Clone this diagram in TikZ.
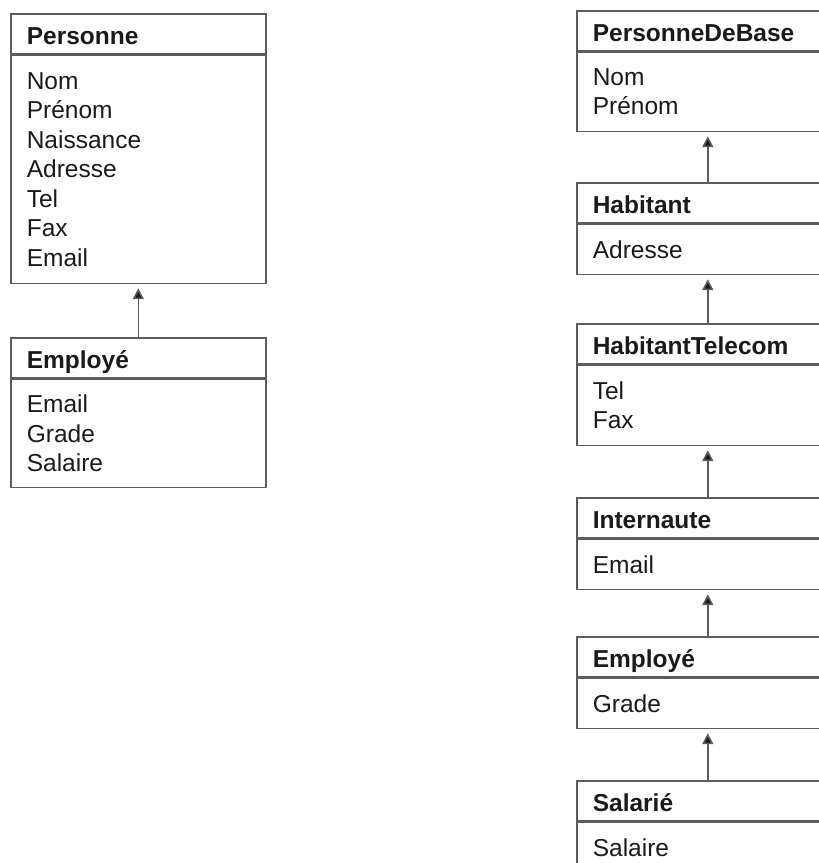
\documentclass[tikz,border=0pt]{standalone}
\usepackage{fontspec}
\setmainfont{Liberation Sans}
\usetikzlibrary{arrows.meta,positioning}
\definecolor{edge}{HTML}{5C5C5C}
\definecolor{ink}{HTML}{1A1A1A}

\begin{document}
\begin{tikzpicture}[
    x=1pt,y=-1pt,
    cls/.style={rectangle,draw=edge,line width=1.6pt,inner xsep=16pt,inner ysep=0pt,align=left,text=ink,font=\fontsize{24.5}{29.5}\selectfont},
    lcls/.style={cls,text width=223pt},
    rcls/.style={cls,text width=230pt},
    ttl/.style={minimum height=40pt,text height=22pt,text depth=0pt,font=\fontsize{24.5}{29.5}\selectfont\bfseries,anchor=north west},
    arr/.style={-{Triangle[length=11pt,width=11pt,fill=ink]},draw=edge,line width=1.6pt,shorten >=4pt}
]
\useasboundingbox (0,0) rectangle (819,863);
\clip (0,0) rectangle (819,863);

% flat class
\node[lcls,ttl] (pers) at (10,13) {Personne};
\node[lcls,minimum height=228pt,below=0pt of pers] (persA) {Nom\\Prénom\\Naissance\\Adresse\\Tel\\Fax\\Email};
\node[lcls,ttl] (emp) at (10,337) {Employé};
\node[lcls,minimum height=108pt,below=0pt of emp] (empA) {Email\\Grade\\Salaire};
\draw[arr] (emp.north) -- (persA.south);

% chain of classes
\node[rcls,ttl] (pdb) at (576,10) {PersonneDeBase};
\node[rcls,minimum height=79pt,below=0pt of pdb] (pdbA) {Nom\\Prénom};
\node[rcls,ttl] (hab) at (576,182) {Habitant};
\node[rcls,minimum height=50pt,below=0pt of hab] (habA) {Adresse};
\node[rcls,ttl] (habT) at (576,323) {HabitantTelecom};
\node[rcls,minimum height=80pt,below=0pt of habT] (habTA) {Tel\\Fax};
\node[rcls,ttl] (inet) at (576,497) {Internaute};
\node[rcls,minimum height=50pt,below=0pt of inet] (inetA) {Email};
\node[rcls,ttl] (emp2) at (576,636) {Employé};
\node[rcls,minimum height=50pt,below=0pt of emp2] (emp2A) {Grade};
\node[rcls,ttl] (sal) at (576,780) {Salarié};
\node[rcls,minimum height=50pt,below=0pt of sal] (salA) {Salaire};

\draw[arr] (hab.north) -- (pdbA.south);
\draw[arr] (habT.north) -- (habA.south);
\draw[arr] (inet.north) -- (habTA.south);
\draw[arr] (emp2.north) -- (inetA.south);
\draw[arr] (sal.north) -- (emp2A.south);
\end{tikzpicture}
\end{document}
